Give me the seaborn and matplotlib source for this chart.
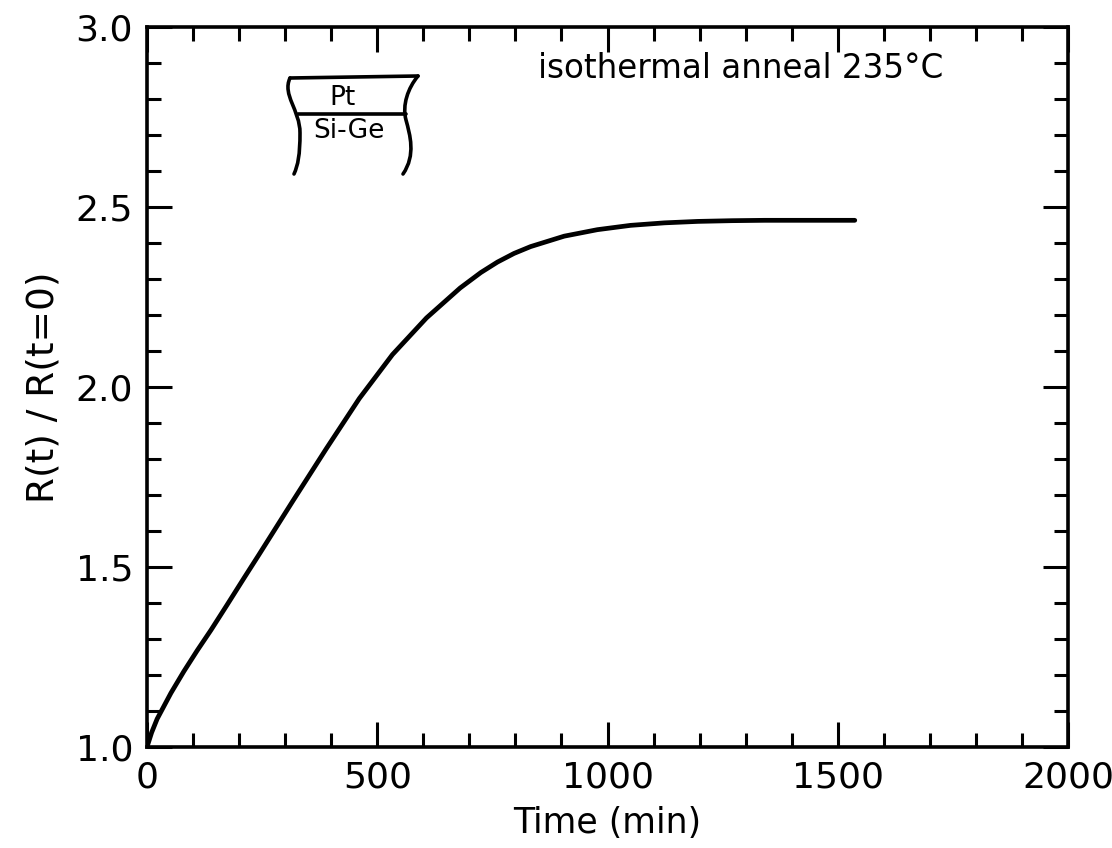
import numpy as np
import pandas as pd
import matplotlib
matplotlib.use("Agg")
import matplotlib.pyplot as plt
from matplotlib.path import Path
from matplotlib.patches import PathPatch
from matplotlib.ticker import MultipleLocator
import seaborn as sns

# Normalised sheet resistance during the 235 °C isothermal anneal
time_min = [0, 10, 22, 52, 80, 109, 139, 174, 211, 243, 315, 389, 461, 533, 607,
            680, 725, 761, 797, 833, 906, 978, 1050, 1124, 1196, 1270, 1341,
            1440, 1537]
resistance_ratio = [1.0, 1.04, 1.078, 1.15, 1.21, 1.268, 1.325, 1.395, 1.47,
                    1.534, 1.68, 1.828, 1.968, 2.09, 2.192, 2.275, 2.318, 2.347,
                    2.371, 2.39, 2.419, 2.437, 2.449, 2.456, 2.460, 2.462, 2.463,
                    2.463, 2.463]

x_major = [0, 500, 1000, 1500, 2000]
x_labels = ["0", "500", "1000", "1500", "2000"]
y_major = [1.0, 1.5, 2.0, 2.5, 3.0]
y_labels = ["1.0", "1.5", "2.0", "2.5", "3.0"]

df = pd.DataFrame({"time": time_min, "ratio": resistance_ratio})

sns.set_theme(style="ticks")
plt.rcParams["font.family"] = ["DejaVu Sans"]
plt.rcParams.update({"text.color": "black", "axes.labelcolor": "black",
                     "xtick.color": "black", "ytick.color": "black",
                     "axes.edgecolor": "black"})

W, H = 1112, 848
fig = plt.figure(figsize=(W / 100, H / 100), dpi=100)
L, R, T, B = 147, 1068, 27, 747
ax = fig.add_axes([L / W, 1 - B / H, (R - L) / W, (B - T) / H])

line_ax = sns.lineplot(data=df, x="time", y="ratio", ax=ax, color="black",
                       linewidth=3.4, estimator=None, sort=False)
for ln in line_ax.lines:
    ln.set_solid_joinstyle("round")
    ln.set_solid_capstyle("round")

ax.set_xlim(0, 2000)
ax.set_ylim(1.0, 3.0)
ax.set_xticks(x_major)
ax.set_xticklabels(x_labels)
ax.set_yticks(y_major)
ax.set_yticklabels(y_labels)
ax.xaxis.set_minor_locator(MultipleLocator(100))
ax.yaxis.set_minor_locator(MultipleLocator(0.1))

for s in ax.spines.values():
    s.set_linewidth(2.6)
    s.set_color("black")
    s.set_visible(True)

ax.tick_params(which="both", direction="in", top=True, right=True,
               color="black", width=2.2)
ax.tick_params(which="major", length=18, labelsize=26, pad=10,
               labelcolor="black")
ax.tick_params(which="minor", length=10)

ax.set_xlabel("Time (min)", fontsize=25, labelpad=8, color="black")
ax.set_ylabel("R(t) / R(t=0)", fontsize=27, labelpad=10, color="black")

ax.text(0.425, 0.943, "isothermal anneal 235°C", color="black",
        transform=ax.transAxes, fontsize=23.5, ha="left", va="center")


# Pt / Si-Ge layer sketch (pixel positions on the figure canvas)
def to_ax(px, py):
    return ((px - L) / (R - L), (B - py) / (B - T))


def curve(points, codes):
    verts = [to_ax(*p) for p in points]
    return PathPatch(Path(verts, codes), transform=ax.transAxes,
                     fill=False, lw=2.6, edgecolor="black", capstyle="round")


M, C4, LT = Path.MOVETO, Path.CURVE4, Path.LINETO
ax.add_patch(curve([(290, 78), (282, 95), (300, 110), (300, 133),
                    (300, 155), (298, 165), (294, 174)],
                   [M, C4, C4, C4, C4, C4, C4]))
ax.add_patch(curve([(418, 76), (408, 88), (402, 105), (406, 120),
                    (410, 135), (416, 155), (403, 174)],
                   [M, C4, C4, C4, C4, C4, C4]))
ax.add_patch(curve([(290, 78), (418, 76)], [M, LT]))
ax.add_patch(curve([(298, 114), (406, 114)], [M, LT]))

px, py = to_ax(342, 98)
ax.text(px, py, "Pt", transform=ax.transAxes, fontsize=19, ha="center",
        va="center", color="black")
px, py = to_ax(349, 131)
ax.text(px, py, "Si-Ge", transform=ax.transAxes, fontsize=19, ha="center",
        va="center", color="black")

fig.savefig("out.png", dpi=100, facecolor="white")
